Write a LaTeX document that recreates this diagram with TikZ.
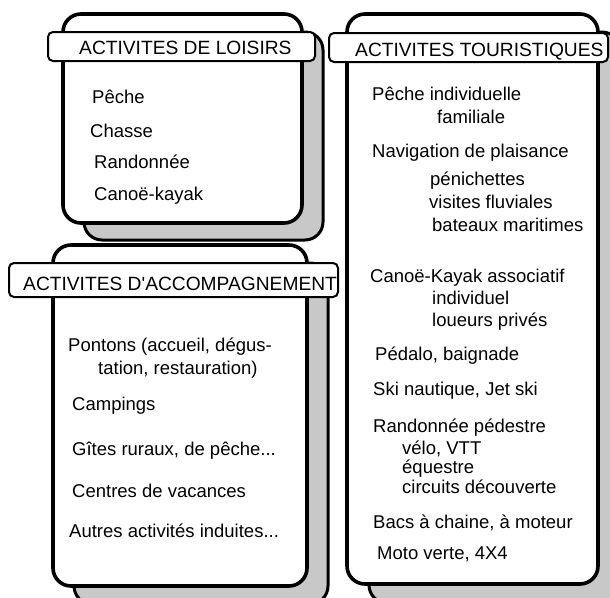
\documentclass[tikz,border=0pt]{standalone}
\usepackage{fontspec}
\setmainfont{Liberation Sans}
\definecolor{shade}{RGB}{200,200,200}
\begin{document}
\begin{tikzpicture}[x=1pt,y=-1pt,
  mainbox/.style={draw=black, line width=3.6pt, fill=white, rounded corners=18pt},
  shadowbox/.style={draw=black, line width=3pt, fill=shade, rounded corners=18pt},
  banner/.style={draw=black, line width=2pt, fill=white, rounded corners=5pt},
  item/.style={anchor=base west, inner sep=0pt, font=\fontsize{18.5}{22}\selectfont},
  title/.style={anchor=base west, inner sep=0pt, font=\fontsize{19.2}{22}\selectfont}]
\useasboundingbox (0,0) rectangle (610,597);
\clip (0,0) rectangle (610,597);
% shadows
\draw[shadowbox] (84,32) rectangle (323,240);
\draw[shadowbox] (74,263) rectangle (328,604);
\draw[shadowbox] (369,32) rectangle (620,603);
% main boxes
\draw[mainbox] (63,14) rectangle (302,223);
\draw[mainbox] (53,245) rectangle (307,586);
\draw[mainbox] (347,14) rectangle (598,584);
% banners
\draw[banner] (48,32) rectangle (315,61);
\draw[banner] (9,263) rectangle (338,297);
\draw[banner] (329,33) rectangle (608,62);
% titles
\node[title] (t1) at (79,54) {ACTIVITES DE LOISIRS};
\node[title] (t2) at (23,290) {ACTIVITES D\textquotesingle ACCOMPAGNEMENT};
\node[title] (t3) at (355,56) {ACTIVITES TOURISTIQUES};
% box 1
\node[item] (l1) at (92,103) {Pêche};
\node[item] (l2) at (90,137) {Chasse};
\node[item] (l3) at (94,168) {Randonnée};
\node[item] (l4) at (94,200) {Canoë-kayak};
% box 2
\node[item] (a1) at (68,351) {Pontons (accueil, dégus-};
\node[item] (a1b) at (98,374) {tation, restauration)};
\node[item] (a2) at (72,410) {Campings};
\node[item] (a3) at (72,455) {Gîtes ruraux, de pêche...};
\node[item] (a4) at (72,497) {Centres de vacances};
\node[item] (a5) at (69,537) {Autres activités induites...};
% box 3
\node[item] (r1) at (372,100) {Pêche individuelle};
\node[item] (r1b) at (437,123) {familiale};
\node[item] (r2) at (372,157) {Navigation de plaisance};
\node[item] (r2b) at (430,185) {pénichettes};
\node[item] (r2c) at (429,208) {visites fluviales};
\node[item] (r2d) at (432,231) {bateaux maritimes};
\node[item] (r3) at (370,282) {Canoë-Kayak associatif};
\node[item] (r3b) at (432,304) {individuel};
\node[item] (r3c) at (432,326) {loueurs privés};
\node[item] (r4) at (375,360) {Pédalo, baignade};
\node[item] (r5) at (373,395) {Ski nautique, Jet ski};
\node[item] (r6) at (373,432) {Randonnée pédestre};
\node[item] (r6b) at (402,454) {vélo, VTT};
\node[item] (r6c) at (402,473) {équestre};
\node[item] (r6d) at (402,493) {circuits découverte};
\node[item] (r7) at (373,528) {Bacs à chaine, à moteur};
\node[item] (r8) at (377,559) {Moto verte, 4X4};
\end{tikzpicture}
\end{document}
